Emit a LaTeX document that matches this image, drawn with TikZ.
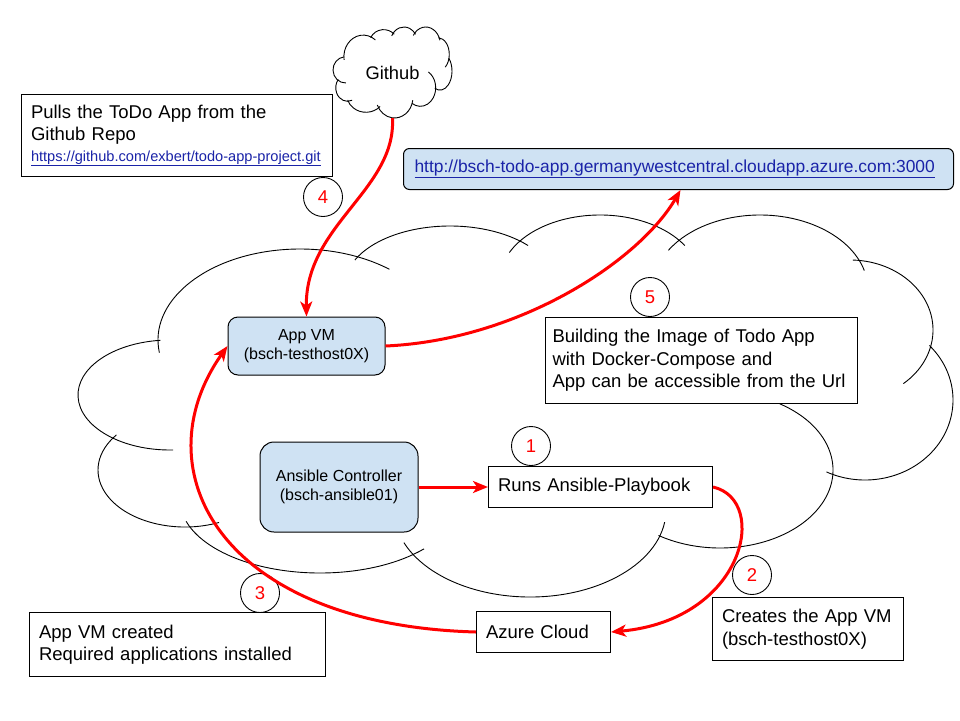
\documentclass[tikz,border=0pt]{standalone}
\usepackage{fontspec}
\setmainfont{Liberation Sans}
\usetikzlibrary{arrows.meta}
\definecolor{boxblue}{HTML}{CFE2F3}
\definecolor{linkblue}{HTML}{1A23A8}
\definecolor{arrowred}{HTML}{FF0000}
\newcommand\lobe[6]{\draw[cloudline] (#1,#2) ++(#5:#3 and #4) arc[start angle=#5, end angle=#6, x radius=#3, y radius=#4];}
\newcommand\cloudlobes{%
 \lobe{170}{395}{92}{55}{88}{264}
 \lobe{300}{340}{142}{91}{172}{309}
 \lobe{450}{285}{105}{59}{205}{318}
 \lobe{600}{280}{100}{65}{205}{328}
 \lobe{760}{290}{108}{75}{212}{345}
 \lobe{850}{330}{83}{70}{272}{410}
 \lobe{865}{400}{88}{80}{-43}{116}
 \lobe{720}{470}{113}{78}{-58}{123}
 \lobe{530}{510}{136}{87}{8}{158}
 \lobe{320}{500}{140}{73}{42}{163}
 \lobe{185}{470}{87}{57}{67}{218}
}
\begin{document}
\begin{tikzpicture}[x=1pt,y=-1pt,
  cloudline/.style={draw=black, line width=0.9pt},
  bigfont/.style={font=\fontsize{18.5}{22.5}\selectfont},
  bluebox/.style={draw=black, line width=1pt, fill=boxblue, rounded corners=10pt, align=center, inner sep=0pt, font=\fontsize{16}{19.5}\selectfont},
  plainbox/.style={draw=black, line width=1pt, fill=white, align=left, inner xsep=9.5pt, inner ysep=0pt, anchor=north west, bigfont},
  numcirc/.style={circle, draw=black, line width=0.9pt, minimum size=39pt, inner sep=0pt, text=arrowred, font=\fontsize{18.5}{20}\selectfont},
  redarrow/.style={draw=arrowred, line width=3pt, -{Stealth[length=15pt,width=12pt,inset=4pt]}},
]
\useasboundingbox (0,0) rectangle (960,720);
\fill[white] (0,0) rectangle (960,720);

% big cloud
\cloudlobes
% small github cloud (same outline, scaled)
\begin{scope}[shift={(333,27)}, xscale=0.136, yscale=0.2382, shift={(-78,-215)}]
\cloudlobes
\end{scope}

\node[minimum width=119pt, minimum height=91pt, inner sep=0pt, font=\fontsize{18.3}{20}\selectfont] (github) at (392.5,72.5) {Github};

\node[plainbox, minimum height=82pt, text width=292pt] (pulls) at (21,94)
  {Pulls the ToDo App from the\\Github Repo\\[-2pt]{\fontsize{14.6}{17}\selectfont\color{linkblue}\underline{https://github.com/exbert/todo-app-project.git}}};

\node[draw=black, line width=1pt, fill=boxblue, rounded corners=6pt, anchor=north west, inner xsep=11pt, inner ysep=0pt, minimum height=41pt, text width=528pt, align=left, font=\fontsize{17.4}{20}\selectfont] (url) at (403,148)
  {\color{linkblue}\underline{http://bsch-todo-app.germanywestcentral.cloudapp.azure.com:3000}};

\node[bluebox, minimum width=157pt, minimum height=58pt] (appvm) at (306.5,346) {App VM\\(bsch-testhost0X)};
\node[bluebox, rounded corners=14pt, minimum width=158pt, minimum height=90pt] (ansible) at (339,487) {Ansible Controller\\(bsch-ansible01)};

\node[plainbox, inner xsep=7pt, minimum height=86pt, text width=298pt] (build) at (545,317)
  {Building the Image of Todo App\\with Docker-Compose and\\App can be accessible from the Url};
\node[plainbox, minimum height=41pt, text width=205pt] (runs) at (488,466) {Runs Ansible-Playbook};
\node[plainbox, minimum height=63pt, text width=172pt] (creates) at (712,597) {Creates the App VM\\(bsch-testhost0X)};
\node[plainbox, minimum height=41pt, text width=115pt] (azure) at (476,611) {Azure Cloud};
\node[plainbox, minimum height=64pt, text width=277pt] (created) at (29,612) {App VM created\\Required applications installed};

\node[numcirc] (n1) at (531,446) {1};
\node[numcirc] (n2) at (752,575) {2};
\node[numcirc] (n3) at (260,593) {3};
\node[numcirc] (n4) at (323,197) {4};
\node[numcirc] (n5) at (650,297) {5};

\draw[redarrow] (github.south) .. controls (396,190) and (305,225) .. (appvm.north);
\draw[redarrow] (appvm.east) .. controls (520,340) and (640,260) .. ([xshift=2pt]url.south);
\draw[redarrow] (ansible.east) -- (runs.west);
\draw[redarrow] (runs.east) .. controls (770,500) and (745,620) .. (azure.east);
\draw[redarrow] (azure.west) .. controls (220,625) and (140,470) .. (appvm.west);
\end{tikzpicture}
\end{document}
